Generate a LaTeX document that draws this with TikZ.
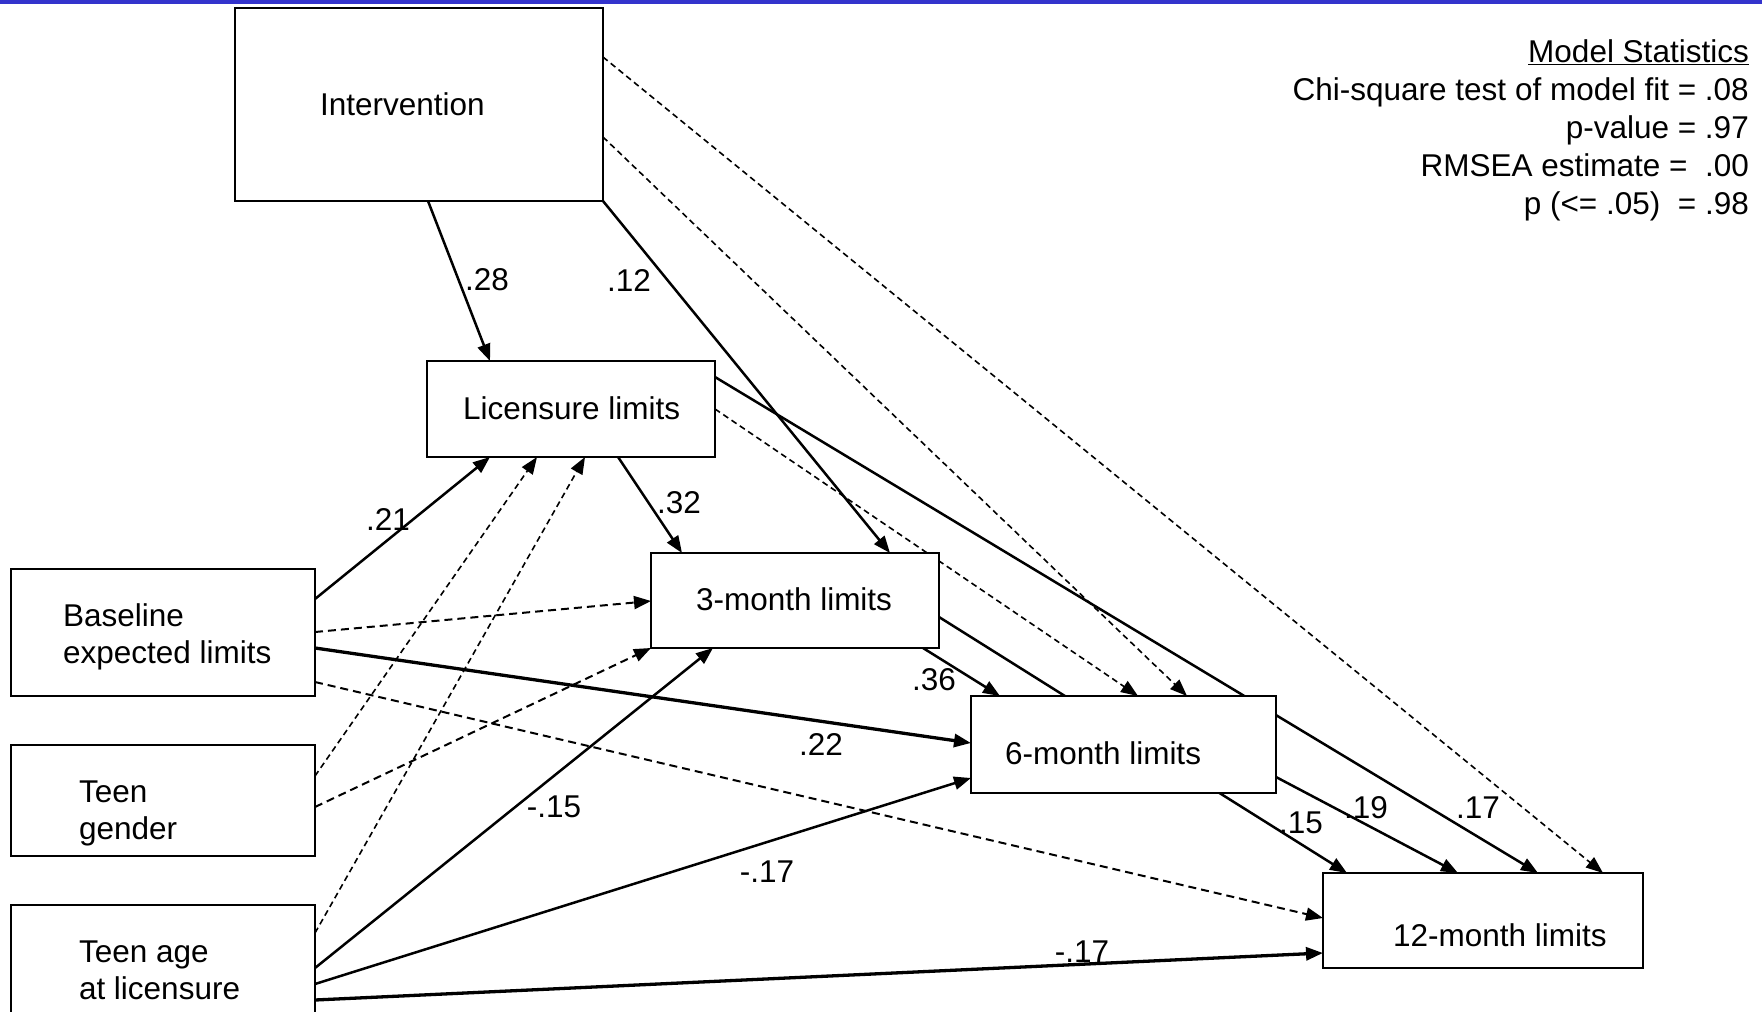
\documentclass[tikz,border=0pt]{standalone}
\usepackage{fontspec}
\setmainfont{Liberation Sans}
\usetikzlibrary{arrows.meta}
\pgfdeclarelayer{bg}
\pgfsetlayers{bg,main}
\definecolor{barblue}{RGB}{51,51,204}
% width, left offset, raise of first baseline from box centre, lines
\newcommand{\btext}[4]{\makebox[#1pt][l]{\hspace*{#2pt}\raisebox{#3pt}[0pt][0pt]{\begin{tabular}[t]{@{}l@{}}#4\end{tabular}}}}
\begin{document}
\begin{tikzpicture}[x=1pt,y=-1pt,
  font=\fontsize{31.5}{37}\selectfont,
  box/.style={draw, fill=white, line width=2.4pt, inner sep=0pt, outer sep=0pt, anchor=north west},
  solidarr/.style={line width=2.5pt, -{Triangle[length=17pt,width=13pt]}},
  thickarr/.style={solidarr, line width=3.3pt},
  dasharr/.style={line width=2pt, dash pattern=on 8pt off 5pt, -{Triangle[length=17pt,width=13pt]}},
  thindash/.style={dasharr, line width=1.6pt, dash pattern=on 6pt off 4pt},
  coef/.style={inner sep=1pt}]
\useasboundingbox (0,0) rectangle (1762,1012);
\begin{pgfonlayer}{bg}
\fill[white] (0,0) rectangle (1762,1012);
\end{pgfonlayer}
\fill[barblue] (0,0) rectangle (1762,4);

% boxes
\node[box, minimum width=368pt, minimum height=193pt] (int) at (235,8) {\btext{368}{85}{-10.5}{Intervention}};
\node[box, minimum width=288pt, minimum height=96pt] (lic) at (427,361) {\btext{288}{36}{-10}{Licensure limits}};
\node[box, minimum width=288pt, minimum height=95pt] (m3) at (651,553) {\btext{288}{45}{-9.5}{3-month limits}};
\node[box, minimum width=305pt, minimum height=97pt] (m6) at (971,696) {\btext{305}{34}{-19.5}{6-month limits}};
\node[box, minimum width=320pt, minimum height=95pt] (m12) at (1323,873) {\btext{320}{70}{-25.5}{12-month limits}};
\node[box, minimum width=304pt, minimum height=127pt] (base) at (11,569) {\btext{304}{52}{6.5}{Baseline\\expected limits}};
\node[box, minimum width=304pt, minimum height=111pt] (gender) at (11,745) {\btext{304}{68}{-1.5}{Teen\\gender}};
\begin{scope}
\clip (0,0) rectangle (1762,1012);
\node[box, minimum width=304pt, minimum height=130pt] (age) at (11,905) {\btext{304}{68}{8}{Teen age\\at licensure}};
\end{scope}

% model statistics
\node[anchor=base east, inner sep=0pt, font=\fontsize{31.5}{38}\selectfont] (stats) at (1749,62)
  {\begin{tabular}[t]{@{}r@{}}\underline{Model Statistics}\\
   Chi-square test of model fit = .08\\
   p-value = .97\\
   RMSEA estimate = \ .00\\
   p (<= .05) \ = .98\end{tabular}};

% connectors
\begin{pgfonlayer}{bg}
\draw[solidarr] ([xshift=193pt]int.south west) -- ([xshift=63pt]lic.north west);
\draw[solidarr] (int.south east) -- ([xshift=239pt]m3.north west);
\draw[thindash] ([yshift=-129pt]int.north east) -- ([xshift=216pt]m6.north west);
\draw[thindash] ([yshift=-49pt]int.north east) -- ([xshift=280pt]m12.north west);
\draw[solidarr] ([xshift=191pt]lic.south west) -- ([xshift=31pt]m3.north west);
\draw[thindash] ([yshift=-48pt]lic.north east) -- ([xshift=167pt]m6.north west);
\draw[solidarr] ([yshift=-16pt]lic.north east) -- ([xshift=215pt]m12.north west);
\draw[solidarr] ([xshift=272pt]m3.south west) -- ([xshift=29pt]m6.north west);
\draw[solidarr] ([yshift=-64pt]m3.north east) -- ([xshift=24pt]m12.north west);
\draw[solidarr] ([yshift=-81pt]m6.north east) -- ([xshift=135pt]m12.north west);
\draw[solidarr] ([yshift=-30pt]base.north east) -- ([xshift=63pt]lic.south west);
\draw[dasharr] ([yshift=-63pt]base.north east) -- ([yshift=-48pt]m3.north west);
\draw[thickarr] ([yshift=-79pt]base.north east) -- ([yshift=-47pt]m6.north west);
\draw[dasharr] ([yshift=-113pt]base.north east) -- ([yshift=-45pt]m12.north west);
\draw[thindash] ([yshift=-31pt]gender.north east) -- ([xshift=110pt]lic.south west);
\draw[dasharr] ([yshift=-62pt]gender.north east) -- (m3.south west);
\draw[thindash] ([yshift=-28pt]age.north east) -- ([xshift=158pt]lic.south west);
\draw[solidarr] ([yshift=-63pt]age.north east) -- ([xshift=62pt]m3.south west);
\draw[solidarr] ([yshift=-79pt]age.north east) -- ([yshift=-82pt]m6.north west);
\draw[thickarr] ([yshift=-95pt]age.north east) -- ([yshift=-80pt]m12.north west);
\end{pgfonlayer}

% coefficients
\node[coef] (c28) at (487,280) {.28};
\node[coef] (c12) at (629,280) {.12};
\node[coef] (c21) at (388,519) {.21};
\node[coef] (c32) at (679,503) {.32};
\node[coef] (c36) at (934,680) {.36};
\node[coef] (c22) at (821,744) {.22};
\node[coef] (c15n) at (554,807) {-.15};
\node[coef] (c17a) at (767,872) {-.17};
\node[coef] (c17b) at (1082,952) {-.17};
\node[coef] (c15) at (1301,823) {.15};
\node[coef] (c19) at (1366,808) {.19};
\node[coef] (c17) at (1478,808) {.17};
\end{tikzpicture}
\end{document}
